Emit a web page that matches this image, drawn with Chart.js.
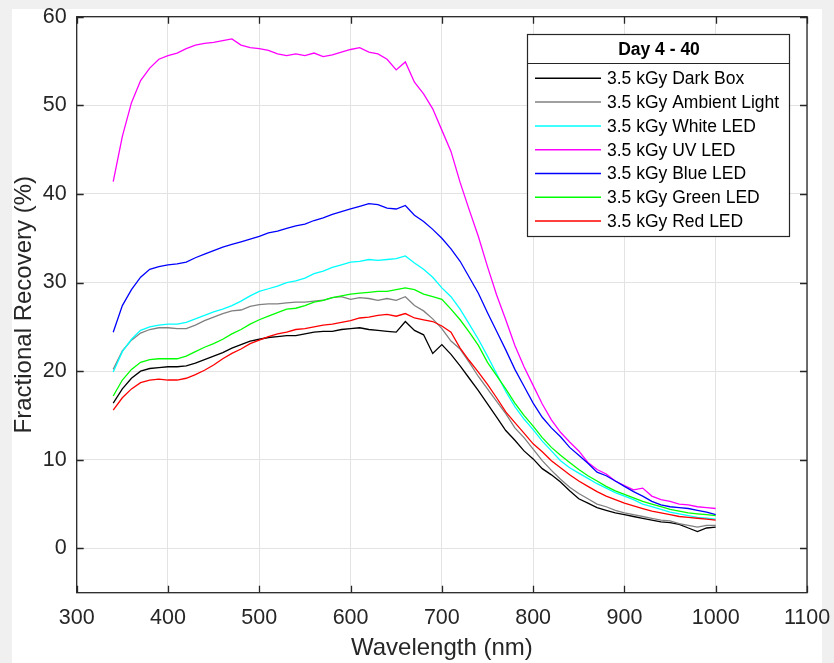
<!DOCTYPE html>
<html>
<head>
<meta charset="utf-8">
<script src="https://cdn.jsdelivr.net/npm/chart.js@4.4.0/dist/chart.umd.min.js"></script>
<style>
  html, body { margin: 0; padding: 0; background: #f0f0f0; }
</style>
</head>
<body>
<canvas id="chart" width="834" height="663"></canvas>
<script>
const wavelength = [340, 350, 360, 370, 380, 390, 400, 410, 420, 430, 440, 450, 460, 470, 480, 490, 500,
  510, 520, 530, 540, 550, 560, 570, 580, 590, 600, 610, 620, 630, 640, 650, 660, 670, 680, 690, 700,
  710, 720, 730, 740, 750, 760, 770, 780, 790, 800, 810, 820, 830, 840, 850, 860, 870, 880, 890, 900,
  910, 920, 930, 940, 950, 960, 970, 980, 990, 1000];

const darkBox = [16.4, 18.0, 19.2, 20.0, 20.3, 20.4, 20.5, 20.5, 20.6, 20.9, 21.3, 21.7, 22.1, 22.6, 23.0, 23.4, 23.6,
  23.8, 23.9, 24.0, 24.0, 24.2, 24.4, 24.5, 24.5, 24.7, 24.8, 24.9, 24.7, 24.6, 24.5, 24.4, 25.6, 24.6, 24.1, 22.0, 23.0,
  21.9, 20.6, 19.2, 17.8, 16.3, 14.8, 13.3, 12.2, 11.0, 10.1, 9.0, 8.3, 7.5, 6.5, 5.6, 5.1, 4.6, 4.3, 4.0, 3.8,
  3.6, 3.4, 3.2, 3.0, 2.9, 2.7, 2.3, 1.9, 2.3, 2.4];

const ambient = [20.2, 22.3, 23.5, 24.3, 24.7, 24.9, 24.9, 24.8, 24.8, 25.2, 25.7, 26.1, 26.5, 26.8, 26.9, 27.3, 27.5,
  27.6, 27.6, 27.7, 27.8, 27.8, 27.9, 28.0, 28.3, 28.4, 28.1, 28.3, 28.2, 28.0, 28.2, 28.0, 28.4, 27.4, 26.8, 25.9, 24.8,
  23.4, 22.5, 21.0, 19.4, 18.0, 16.6, 15.2, 13.6, 12.5, 11.2, 9.9, 8.8, 7.8, 6.9, 6.2, 5.6, 5.0, 4.7, 4.3, 4.0,
  3.8, 3.6, 3.4, 3.2, 3.1, 2.8, 2.6, 2.4, 2.6, 2.6];

const whiteLed = [19.9, 22.2, 23.6, 24.6, 25.0, 25.2, 25.3, 25.3, 25.5, 25.9, 26.3, 26.7, 27.0, 27.4, 27.9, 28.5, 29.0,
  29.3, 29.6, 30.0, 30.2, 30.5, 31.0, 31.3, 31.7, 32.0, 32.3, 32.4, 32.6, 32.5, 32.6, 32.7, 33.0, 32.2, 31.5, 30.6, 29.4,
  28.4, 27.0, 25.3, 23.6, 21.7, 19.7, 17.7, 16.0, 14.6, 13.4, 12.1, 11.0, 9.9, 9.1, 8.5, 7.9, 7.3, 6.8, 6.3, 5.9,
  5.5, 5.0, 4.7, 4.4, 4.1, 3.9, 3.7, 3.5, 3.4, 3.3];

const uvLed = [41.4, 46.5, 50.3, 52.8, 54.2, 55.2, 55.6, 55.9, 56.4, 56.8, 57.0, 57.1, 57.3, 57.5, 56.8, 56.5, 56.4,
  56.2, 55.8, 55.6, 55.8, 55.6, 55.9, 55.5, 55.7, 56.0, 56.3, 56.5, 56.0, 55.8, 55.2, 54.0, 54.9, 52.6, 51.3, 49.6, 47.2,
  44.8, 41.3, 38.2, 35.2, 31.8, 28.6, 25.8, 22.9, 20.5, 18.4, 16.3, 14.5, 13.1, 12.0, 11.0, 9.7, 8.9, 8.4, 7.6, 7.1,
  6.6, 6.8, 5.9, 5.5, 5.3, 5.0, 4.9, 4.7, 4.6, 4.5];

const blueLed = [24.4, 27.4, 29.2, 30.6, 31.5, 31.8, 32.0, 32.1, 32.3, 32.8, 33.2, 33.6, 34.0, 34.3, 34.6, 34.9, 35.2,
  35.6, 35.8, 36.1, 36.4, 36.6, 37.0, 37.3, 37.7, 38.0, 38.3, 38.6, 38.9, 38.8, 38.4, 38.3, 38.7, 37.6, 36.9, 36.0, 35.0,
  33.8, 32.4, 30.6, 28.8, 26.6, 24.5, 22.4, 20.2, 18.3, 16.4, 14.8, 13.6, 12.6, 11.4, 10.5, 9.6, 8.6, 8.2, 7.6, 7.0,
  6.4, 5.9, 5.3, 4.9, 4.7, 4.6, 4.5, 4.3, 4.1, 3.8];

const greenLed = [17.2, 19.0, 20.2, 21.0, 21.3, 21.4, 21.4, 21.4, 21.7, 22.2, 22.7, 23.1, 23.6, 24.2, 24.7, 25.3, 25.8,
  26.2, 26.6, 27.0, 27.1, 27.4, 27.8, 28.0, 28.3, 28.5, 28.7, 28.8, 28.9, 29.0, 29.0, 29.2, 29.4, 29.2, 28.7, 28.4, 28.1,
  27.0, 25.8, 24.4, 22.9, 21.0, 19.5, 18.0, 16.4, 15.0, 13.8, 12.5, 11.4, 10.5, 9.7, 8.9, 8.2, 7.6, 7.0, 6.5, 6.1,
  5.7, 5.3, 5.0, 4.7, 4.4, 4.2, 4.0, 3.9, 3.8, 3.7];

const redLed = [15.6, 17.0, 18.0, 18.7, 19.0, 19.1, 19.0, 19.0, 19.2, 19.6, 20.1, 20.7, 21.4, 22.0, 22.5, 23.1, 23.5,
  23.9, 24.2, 24.4, 24.7, 24.8, 25.0, 25.2, 25.3, 25.5, 25.7, 26.0, 26.1, 26.3, 26.4, 26.2, 26.5, 26.0, 25.8, 25.6, 25.1,
  24.4, 22.6, 21.2, 19.9, 18.5, 17.0, 15.4, 14.2, 13.0, 11.8, 10.9, 9.9, 9.1, 8.3, 7.6, 7.0, 6.4, 5.9, 5.5, 5.1,
  4.8, 4.5, 4.2, 4.0, 3.8, 3.6, 3.5, 3.4, 3.3, 3.2];

const seriesNames = ["3.5 kGy Dark Box", "3.5 kGy Ambient Light", "3.5 kGy White LED", "3.5 kGy UV LED",
  "3.5 kGy Blue LED", "3.5 kGy Green LED", "3.5 kGy Red LED"];
const seriesColors = ["#000000", "#808080", "#00ffff", "#ff00ff", "#0000ff", "#00ff00", "#ff0000"];
const seriesValues = [darkBox, ambient, whiteLed, uvLed, blueLed, greenLed, redLed];

const xTicks = [300, 400, 500, 600, 700, 800, 900, 1000, 1100];
const yTicks = [0, 10, 20, 30, 40, 50, 60];
const legendTitle = "Day 4 - 40";

const axisColor = "#262626";
const fontFamily = "'Liberation Sans', Arial, Helvetica, sans-serif";

// grey figure margin + white figure, inward ticks and box, legend
const matlabLook = {
  id: "matlabLook",
  beforeDraw(chart) {
    const c = chart.ctx;
    c.save();
    c.fillStyle = "#f0f0f0";
    c.fillRect(0, 0, chart.width, chart.height);
    c.fillStyle = "#ffffff";
    c.fillRect(12, 9, 810, chart.height - 9);
    c.restore();
  },
  afterDraw(chart) {
    const c = chart.ctx;
    const a = chart.chartArea;
    const xs = chart.scales.x, ys = chart.scales.y;
    c.save();
    c.strokeStyle = axisColor;
    c.lineWidth = 1.3;
    c.beginPath();
    xTicks.forEach(v => {
      const px = Math.round(xs.getPixelForValue(v)) + 0.5;
      c.moveTo(px, a.bottom); c.lineTo(px, a.bottom - 7);
      c.moveTo(px, a.top); c.lineTo(px, a.top + 7);
    });
    yTicks.forEach(v => {
      const py = Math.round(ys.getPixelForValue(v)) + 0.5;
      c.moveTo(a.left, py); c.lineTo(a.left + 7, py);
      c.moveTo(a.right, py); c.lineTo(a.right - 7, py);
    });
    c.stroke();
    c.strokeRect(a.left, a.top, a.right - a.left, a.bottom - a.top);

    // legend box
    const lx = 527, ly = 34, lw = 262, lh = 202;
    c.fillStyle = "#ffffff";
    c.fillRect(lx, ly, lw, lh);
    c.lineWidth = 1.2;
    c.strokeRect(lx + 0.5, ly + 0.5, lw, lh);
    c.beginPath();
    c.moveTo(lx, ly + 29.5); c.lineTo(lx + lw, ly + 29.5);
    c.stroke();
    c.fillStyle = "#000000";
    c.font = "bold 17.5px " + fontFamily;
    c.textAlign = "center";
    c.textBaseline = "middle";
    c.fillText(legendTitle, lx + lw / 2 + 1, ly + 16);
    c.font = "17.5px " + fontFamily;
    c.textAlign = "left";
    chart.data.datasets.forEach((ds, i) => {
      const y = 78.3 + i * 23.8;
      c.strokeStyle = ds.borderColor;
      c.lineWidth = 1.5;
      c.beginPath();
      c.moveTo(535, y); c.lineTo(601, y);
      c.stroke();
      c.fillStyle = "#000000";
      c.fillText(ds.label, 607, y + 1);
    });
    c.restore();
  }
};

const ctx = document.getElementById("chart").getContext("2d");
const chart = new Chart(ctx, {
  type: "line",
  data: {
    datasets: seriesNames.map((name, i) => ({
      label: name,
      data: wavelength.map((w, j) => ({ x: w, y: seriesValues[i][j] })),
      borderColor: seriesColors[i],
      borderWidth: 1.3,
      pointRadius: 0,
      tension: 0,
      fill: false,
      order: seriesNames.length - i
    }))
  },
  options: {
    responsive: false,
    animation: false,
    devicePixelRatio: 1,
    layout: { padding: { left: 0, top: 16.7, right: 27, bottom: 0 } },
    plugins: { legend: { display: false }, tooltip: { enabled: false } },
    scales: {
      x: {
        type: "linear",
        min: 300, max: 1100,
        afterBuildTicks: (axis) => { axis.ticks = xTicks.map(v => ({ value: v })); },
        afterFit: (scale) => {
          scale.height = 70.3;
          scale.paddingLeft = 0; scale.paddingRight = 0;
        },
        grid: { color: "#e3e3e3", drawTicks: false },
        border: { display: false },
        ticks: { color: axisColor, padding: 12, font: { family: fontFamily, size: 21.5 }, maxRotation: 0,
          callback: (v) => String(v) },
        title: { display: true, text: "Wavelength (nm)", color: axisColor, padding: { top: 0, bottom: 0 },
          font: { family: fontFamily, size: 24 } }
      },
      y: {
        type: "linear",
        min: -5, max: 60,
        afterBuildTicks: (axis) => { axis.ticks = yTicks.map(v => ({ value: v })); },
        afterFit: (scale) => {
          scale.width = 76.7;
          scale.paddingTop = 0; scale.paddingBottom = 0;
        },
        grid: { color: "#e3e3e3", drawTicks: false },
        border: { display: false },
        ticks: { color: axisColor, padding: 10, font: { family: fontFamily, size: 21.5 },
          callback: (v) => String(v) },
        title: { display: true, text: "Fractional Recovery (%)", color: axisColor, padding: { top: 10, bottom: 0 },
          font: { family: fontFamily, size: 24 } }
      }
    }
  },
  plugins: [matlabLook]
});
</script>
</body>
</html>
